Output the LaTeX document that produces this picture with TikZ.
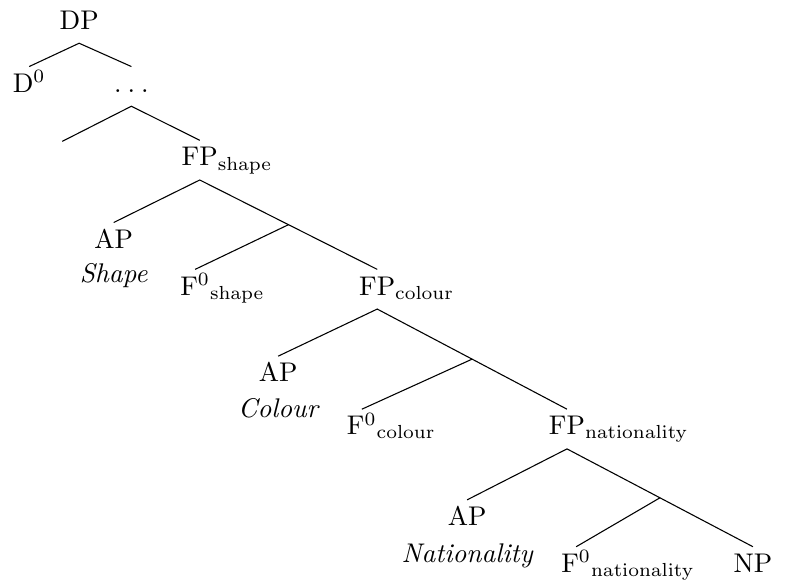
\documentclass[tikz,border=0pt]{standalone}
\usepackage{tikz}
\usepackage{amsmath}
\usepackage{amssymb}
\tikzset{lbl/.style={anchor=base,text height=6.9pt,text depth=2.6pt,inner sep=2.4pt},
  gloss/.style={anchor=base,font=\itshape,inner sep=0pt}}
\begin{document}
\begin{tikzpicture}
      \useasboundingbox (0,0) rectangle (10.40,-7.59);
      \node[lbl] (DP) at (1.03,-0.38) {DP};
      \node[lbl] (D0) at (0.38,-1.20) {D$^0$};
      \node[lbl] (dots) at (1.71,-1.20) {.\kern.22em.\kern.22em.};
      \coordinate (blank) at (0.81,-1.84);
      \node[lbl] (FPshape) at (2.60,-2.16) {FP\rlap{$_{\mathrm{shape}}$}};
      \node[lbl] (APshape) at (1.48,-3.23) {AP};
      \node[gloss] (Shape) at (1.48,-3.68) {Shape};
      \node[lbl] (F0shape) at (2.54,-3.84) {F$^0$\rlap{$_{\mathrm{shape}}$}};
      \node[lbl] (FPcolour) at (4.91,-3.84) {FP\rlap{$_{\mathrm{colour}}$}};
      \node[lbl] (APcolour) at (3.62,-4.97) {AP};
      \node[gloss] (Colour) at (3.62,-5.43) {Colour};
      \node[lbl] (F0colour) at (4.71,-5.66) {F$^0$\rlap{$_{\mathrm{colour}}$}};
      \node[lbl] (FPnat) at (7.38,-5.66) {FP\rlap{$_{\mathrm{nationality}}$}};
      \node[lbl] (APnat) at (6.08,-6.84) {AP};
      \node[gloss] (Nationality) at (6.08,-7.32) {Nationality};
      \node[lbl] (F0nat) at (7.50,-7.45) {F$^0$\rlap{$_{\mathrm{nationality}}$}};
      \node[lbl] (NP) at (9.80,-7.45) {NP};
      % branches
      \draw (D0.north) -- (DP.south) -- (dots.north);
      \draw (blank) -- (dots.south) -- (FPshape.north);
      \draw (APshape.north) -- (FPshape.south) -- coordinate[pos=0.5] (Fbarshape) (FPcolour.north);
      \draw (Fbarshape) -- (F0shape.north);
      \draw (APcolour.north) -- (FPcolour.south) -- coordinate[pos=0.5] (Fbarcolour) (FPnat.north);
      \draw (Fbarcolour) -- (F0colour.north);
      \draw (APnat.north) -- (FPnat.south) -- coordinate[pos=0.5] (Fbarnat) (NP.north);
      \draw (Fbarnat) -- (F0nat.north);
\end{tikzpicture}
\end{document}
